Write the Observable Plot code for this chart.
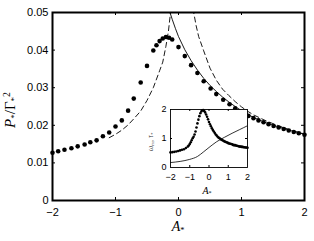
<!DOCTYPE html>
<html><head><meta charset="utf-8">
<script src="https://cdn.jsdelivr.net/npm/d3@7"></script>
<script src="https://cdn.jsdelivr.net/npm/@observablehq/plot@0.6"></script>
<style>
body{margin:0;background:#fff;}
#wrap{position:relative;width:314px;height:241px;}
#wrap svg{position:absolute;}
</style></head><body><div id="wrap"></div>
<script>
// ---- main panel: dots P*/Γ*² vs A*
const dotA = [-2.00,-1.91,-1.81,-1.70,-1.60,-1.49,-1.40,-1.30,-1.20,-1.10,-1.00,-0.90,-0.80,-0.71,-0.60,-0.50,-0.40,-0.35,-0.30,-0.25,-0.20,-0.15,-0.10,0.00,0.10,0.20,0.30,0.40,0.51,0.60,0.71,0.81,0.90,1.01,1.11,1.19,1.27,1.35,1.43,1.51,1.59,1.67,1.75,1.83,1.91,2.00];
const dotP = [0.0127,0.0131,0.0135,0.0139,0.0144,0.0149,0.0155,0.0160,0.0171,0.0181,0.0197,0.0213,0.0239,0.0271,0.0314,0.0358,0.0399,0.0413,0.0424,0.0431,0.0435,0.0433,0.0428,0.0408,0.0384,0.0360,0.0339,0.0317,0.0298,0.0283,0.0268,0.0256,0.0245,0.0234,0.0225,0.0219,0.0213,0.0208,0.0203,0.0198,0.0194,0.0190,0.0186,0.0182,0.0179,0.0175];
// solid asymptote
const solidA = [-0.135,-0.10,-0.05,0.00,0.10,0.20,0.30,0.40,0.50,0.60,0.70,0.80,0.90,1.00,1.10,1.20,1.40,1.60,1.80,2.00];
const solidP = [0.0500,0.0482,0.0458,0.0436,0.0401,0.0372,0.0347,0.0325,0.0306,0.0290,0.0275,0.0262,0.0250,0.0239,0.0229,0.0220,0.0206,0.0195,0.0185,0.0176];
// left dashed asymptote
const dashLA = [-1.10,-1.00,-0.90,-0.80,-0.70,-0.60,-0.50,-0.40,-0.30,-0.25,-0.20,-0.16,-0.13,-0.12];
const dashLP = [0.0167,0.0176,0.0187,0.0201,0.0219,0.0238,0.0266,0.0300,0.0345,0.0368,0.0410,0.0450,0.0495,0.0515];
// right dashed asymptote
const dashRA = [0.23,0.28,0.32,0.40,0.50,0.60,0.70,0.80,0.90,1.00,1.10,1.20,1.40,1.60,1.80,2.00];
const dashRP = [0.0510,0.0465,0.0436,0.0398,0.0352,0.0320,0.0296,0.0279,0.0263,0.0249,0.0237,0.0227,0.0211,0.0198,0.0186,0.0177];
const xTicks = [-2,-1,0,1,2];
const yTicks = [0,0.01,0.02,0.03,0.04,0.05];

// ---- inset: ω (dots) and τ (line) vs A*
const omA = [-2.0,-1.9,-1.8,-1.7,-1.6,-1.5,-1.4,-1.3,-1.2,-1.1,-1.05,-1.0,-0.95,-0.9,-0.85,-0.8,-0.75,-0.7,-0.65,-0.6,-0.55,-0.5,-0.45,-0.4,-0.35,-0.3,-0.25,-0.2,-0.15,-0.1,-0.05,0,0.05,0.1,0.15,0.2,0.25,0.3,0.35,0.4,0.45,0.5,0.55,0.6,0.65,0.7,0.75,0.8,0.85,0.9,0.95,1.0,1.05,1.1,1.15,1.2,1.25,1.3,1.35,1.4,1.45,1.5,1.55,1.6,1.65,1.7,1.75,1.8,1.85,1.9,1.95,2.0];
const omV = [0.52,0.53,0.54,0.55,0.57,0.59,0.61,0.63,0.67,0.72,0.76,0.81,0.87,0.94,1.01,1.06,1.14,1.24,1.38,1.52,1.65,1.77,1.87,1.93,1.97,1.98,1.95,1.90,1.83,1.75,1.66,1.57,1.49,1.42,1.35,1.29,1.24,1.19,1.14,1.10,1.06,1.03,1.01,0.98,0.96,0.94,0.92,0.90,0.89,0.87,0.86,0.84,0.83,0.82,0.81,0.80,0.78,0.77,0.77,0.76,0.75,0.74,0.73,0.72,0.72,0.71,0.71,0.70,0.70,0.69,0.69,0.68];
const tauA = [-2.0,-1.5,-1.0,-0.6,-0.3,0.0,0.4,0.8,1.2,1.6,2.0];
const tauV = [0.17,0.21,0.28,0.38,0.53,0.69,0.89,1.04,1.18,1.31,1.44];
const insXTicks = [-2,-1,0,1,2];
const insYTicks = [0,1,2];

const zip = (a, b) => a.map((v, i) => ({x: v, y: b[i]}));
const fmt = d => d < 0 ? "\u2212" + (-d) : String(d);

const main = Plot.plot({
  width: 314, height: 241,
  marginLeft: 52, marginRight: 10, marginTop: 12, marginBottom: 41,
  style: {fontFamily: "Liberation Sans, Arial, sans-serif", fontSize: "11px", color: "black", background: "white"},
  x: {domain: [-2, 2]},
  y: {domain: [0, 0.05]},
  marks: [
    Plot.line(zip(solidA, solidP), {x: "x", y: "y", stroke: "black", strokeWidth: 0.9, clip: true}),
    Plot.line(zip(dashLA, dashLP), {x: "x", y: "y", stroke: "black", strokeWidth: 0.9, strokeDasharray: "5,3.5", clip: true}),
    Plot.line(zip(dashRA, dashRP), {x: "x", y: "y", stroke: "black", strokeWidth: 0.9, strokeDasharray: "5,3.5", clip: true}),
    Plot.dot(zip(dotA, dotP), {x: "x", y: "y", r: 2.3, fill: "black", stroke: null}),
    Plot.ruleX(xTicks.slice(1, -1), {x: d => d, insetTop: 185, stroke: "black"}),
    Plot.ruleX(xTicks.slice(1, -1), {x: d => d, insetBottom: 185, stroke: "black"}),
    Plot.ruleY(yTicks.slice(1, -1), {y: d => d, insetRight: 249, stroke: "black"}),
    Plot.ruleY(yTicks.slice(1, -1), {y: d => d, insetLeft: 249, stroke: "black"}),
    Plot.frame({stroke: "black", strokeWidth: 2}),
    Plot.axisX(xTicks, {tickSize: 0, tickPadding: 8, tickFormat: fmt, label: null}),
    Plot.axisY(yTicks, {tickSize: 0, tickPadding: 4, tickFormat: d => String(d), label: null})
  ]
});

const inset = Plot.plot({
  width: 112, height: 100,
  marginLeft: 30, marginRight: 5, marginTop: 9, marginBottom: 33,
  style: {fontFamily: "Liberation Sans, Arial, sans-serif", fontSize: "9px", color: "black"},
  x: {domain: [-2, 2]},
  y: {domain: [0, 2]},
  marks: [
    Plot.frame({fill: "white", stroke: null}),
    Plot.line(zip(tauA, tauV), {x: "x", y: "y", stroke: "black", strokeWidth: 0.8, curve: "monotone-x", clip: true}),
    Plot.dot(zip(omA, omV), {x: "x", y: "y", r: 1.3, fill: "black", stroke: null}),
    Plot.ruleX(insXTicks.slice(1, -1), {x: d => d, insetTop: 56, stroke: "black"}),
    Plot.ruleX(insXTicks.slice(1, -1), {x: d => d, insetBottom: 56, stroke: "black"}),
    Plot.ruleY(insYTicks.slice(1, -1), {y: d => d, insetRight: 75, stroke: "black"}),
    Plot.ruleY(insYTicks.slice(1, -1), {y: d => d, insetLeft: 75, stroke: "black"}),
    Plot.frame({stroke: "black", strokeWidth: 0.9}),
    Plot.axisX(insXTicks, {tickSize: 0, tickPadding: 6, tickFormat: fmt, label: null}),
    Plot.axisY(insYTicks, {tickSize: 0, tickPadding: 4, tickFormat: d => String(d), label: null})
  ]
});

const wrap = document.getElementById("wrap");
main.style.left = "0px"; main.style.top = "0px";
inset.style.left = "140px"; inset.style.top = "100px";
inset.style.background = "transparent";
wrap.appendChild(main);
wrap.appendChild(inset);

function rich(svgEl, x, y, rot, size, color, parts) {
  const t = d3.select(svgEl).append("text")
    .attr("transform", `translate(${x},${y})` + (rot ? ` rotate(${rot})` : ""))
    .attr("text-anchor", "middle")
    .attr("fill", color)
    .style("font-family", "Liberation Serif, 'DejaVu Serif', serif")
    .style("font-size", size + "px");
  for (const p of parts) {
    const s = t.append("tspan").text(p.t);
    if (p.i) s.style("font-style", "italic");
    if (p.sub) s.attr("baseline-shift", "-20%").style("font-size", (size * 0.6) + "px");
    if (p.sup) s.attr("baseline-shift", "55%").style("font-size", (size * 0.65) + "px");
  }
}
// main labels
rich(main, 178, 231, 0, 14, "black", [{t: "A", i: true}, {t: "*", sub: true}]);
rich(main, 15, 110, -90, 15, "black", [{t: "P", i: true}, {t: "*", sub: true}, {t: "/\u0393"}, {t: "*", sub: true}, {t: "2", sup: true}]);
// inset labels
rich(inset, 67, 94, 0, 10, "black", [{t: "A", i: true}, {t: "*", sub: true}]);
rich(inset, 13, 42, -90, 8, "#555", [{t: "\u03c9", i: true}, {t: "m", sub: true}, {t: ", "}, {t: "\u03c4", i: true}, {t: "*", sub: true}]);
</script></body></html>
